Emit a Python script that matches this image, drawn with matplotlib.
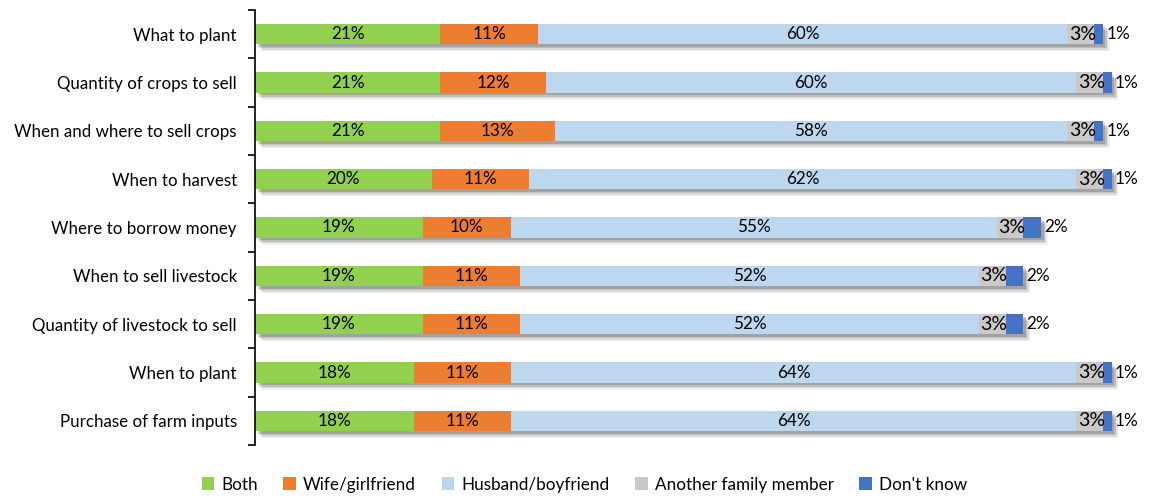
import numpy as np
import matplotlib.pyplot as plt
import matplotlib.patheffects as pe
from matplotlib.patches import Patch

plt.rcParams['font.family'] = ['Lato', 'DejaVu Sans']

categories = ['What to plant', 'Quantity of crops to sell', 'When and where to sell crops',
              'When to harvest', 'Where to borrow money', 'When to sell livestock',
              'Quantity of livestock to sell', 'When to plant', 'Purchase of farm inputs']
both = [21, 21, 21, 20, 19, 19, 19, 18, 18]
wife = [11, 12, 13, 11, 10, 11, 11, 11, 11]
husband = [60, 60, 58, 62, 55, 52, 52, 64, 64]
other = [3, 3, 3, 3, 3, 3, 3, 3, 3]
dontknow = [1, 1, 1, 1, 2, 2, 2, 1, 1]

series = [('Both', both, '#92D050'),
          ('Wife/girlfriend', wife, '#ED7D31'),
          ('Husband/boyfriend', husband, '#BDD7EE'),
          ('Another family member', other, '#C9C9C9'),
          ("Don't know", dontknow, '#4472C4')]

fig = plt.figure(figsize=(11.55, 4.99), dpi=100)
ax = fig.add_axes([255/1155, 54/499, 883/1155, 435/499])

y = np.arange(len(categories))
# soft drop shadow, a few stacked layers
shadow = [pe.SimplePatchShadow(offset=(5, -5), shadow_rgbFace='#000000', alpha=0.06),
          pe.SimplePatchShadow(offset=(4, -4), shadow_rgbFace='#000000', alpha=0.09),
          pe.SimplePatchShadow(offset=(3, -3), shadow_rgbFace='#000000', alpha=0.12),
          pe.SimplePatchShadow(offset=(2, -2), shadow_rgbFace='#000000', alpha=0.15),
          pe.Normal()]
left = np.zeros(len(categories))
for i, (name, vals, col) in enumerate(series):
    vals = np.array(vals, dtype=float)
    ax.barh(y, vals, left=left, height=0.42, color=col, path_effects=shadow)
    for yy, l, v in zip(y, left, vals):
        if i < 3:
            ax.text(l + v / 2, yy, f'{int(v)}%', ha='center', va='center', fontsize=12.3)
        elif i == 3:
            ax.text(l + v / 2 + 0.2, yy, f'{int(v)}%', ha='center', va='center', fontsize=14)
        else:
            ax.text(l + v + 0.4, yy, f'{int(v)}%', ha='left', va='center', fontsize=12.3)
    left = left + vals

ax.set_xlim(0, 100)
ax.set_ylim(len(categories) - 0.5, -0.5)
ax.set_yticks(y)
ax.set_yticklabels(categories, fontsize=12.2)
ax.tick_params(axis='y', which='major', length=0, pad=13)
ax.set_yticks(np.arange(len(categories) + 1) - 0.5, minor=True)
ax.tick_params(axis='y', which='minor', length=5, width=1.2, direction='out')
ax.set_xticks([])
for s in ['top', 'right', 'bottom']:
    ax.spines[s].set_visible(False)
ax.spines['left'].set_linewidth(1.2)

handles = [Patch(facecolor=c, label=n) for n, _, c in series]
ax.legend(handles=handles, loc='lower center', bbox_to_anchor=(0.373, -0.145), ncol=5,
          frameon=False, fontsize=12.3, handlelength=0.75, handleheight=0.75,
          handletextpad=0.4, columnspacing=1.5)

fig.savefig('out.png', dpi=100)
